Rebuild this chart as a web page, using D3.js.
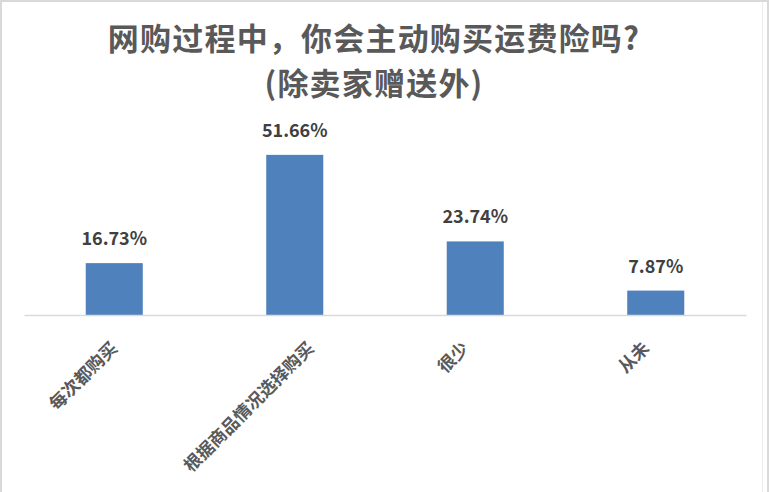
<!DOCTYPE html>
<html>
<head>
<meta charset="utf-8">
<script src="https://cdn.jsdelivr.net/npm/d3@7/dist/d3.min.js"></script>
<style>
  html, body { margin: 0; padding: 0; background: #ffffff; }
  svg { display: block; }
</style>
</head>
<body>
<script>
const titleLines = ["网购过程中，你会主动购买运费险吗?", "(除卖家赠送外)"];
const categories = ["每次都购买", "根据商品情况选择购买", "很少", "从未"];
const values = [16.73, 51.66, 23.74, 7.87];
const valueLabels = ["16.73%", "51.66%", "23.74%", "7.87%"];

const W = 769, H = 492;
const font = "'Noto Sans CJK SC', 'Microsoft YaHei', sans-serif";

const svg = d3.select("body").append("svg").attr("width", W).attr("height", H);

// outer frame
svg.append("rect").attr("x", 0).attr("y", 0).attr("width", W).attr("height", H).attr("fill", "#d9d9d9");
svg.append("rect").attr("x", 2).attr("y", 2).attr("width", 765).attr("height", H).attr("fill", "#ffffff");
svg.append("line").attr("x1", 762.5).attr("x2", 762.5).attr("y1", 2).attr("y2", H)
  .attr("stroke", "#ececec").attr("stroke-width", 1);

// title
svg.append("g").selectAll("text").data(titleLines).join("text")
  .attr("x", 374)
  .attr("y", (d, i) => 50 + i * 45.2)
  .attr("text-anchor", "middle")
  .attr("font-family", font)
  .attr("font-weight", "bold")
  .attr("font-size", 31)
  .attr("letter-spacing", 1.2)
  .attr("fill", "#595959")
  .text(d => d);

const x = d3.scaleBand().domain(categories).range([24, 746]).paddingInner(0.684).paddingOuter(0.342);
const y = d3.scaleLinear().domain([0, 60]).range([315, 129]);

// bars
svg.append("g").selectAll("rect").data(values).join("rect")
  .attr("x", (d, i) => x(categories[i]))
  .attr("y", d => y(d))
  .attr("width", x.bandwidth())
  .attr("height", d => y(0) - y(d))
  .attr("fill", "#4f81bd");

// axis
const axis = svg.append("g").attr("transform", `translate(0,${y(0)})`)
  .call(d3.axisBottom(x).tickSize(0).tickFormat(""));
axis.select(".domain").attr("stroke", "#d9d9d9").attr("stroke-width", 1.5);

// value labels
svg.append("g").selectAll("text").data(values).join("text")
  .attr("x", (d, i) => x(categories[i]) + x.bandwidth() / 2)
  .attr("y", d => y(d) - 18)
  .attr("text-anchor", "middle")
  .attr("font-family", font)
  .attr("font-weight", "bold")
  .attr("font-size", 18)
  .attr("fill", "#404040")
  .text((d, i) => valueLabels[i]);

// category labels rotated
const lab = svg.append("g").selectAll("text").data(categories).join("text")
  .attr("text-anchor", "end")
  .attr("dominant-baseline", "central")
  .attr("font-family", font)
  .attr("font-weight", "bold")
  .attr("font-size", 17.5)
  .attr("fill", "#595959")
  .text(d => d);
lab.attr("transform", function(d) {
  const w = this.getComputedTextLength();
  const cx = x(d) + x.bandwidth() / 2 - 17 + 0.183 * w;
  return `translate(${cx},344) rotate(-45)`;
});
</script>
</body>
</html>
